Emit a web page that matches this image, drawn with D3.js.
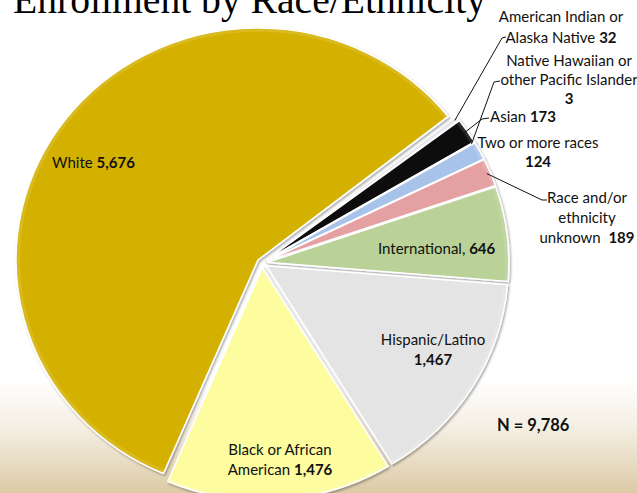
<!DOCTYPE html>
<html><head><meta charset="utf-8">
<script src="https://cdn.jsdelivr.net/npm/d3@7"></script>
<style>html,body{margin:0;padding:0;background:#fff;overflow:hidden}svg{display:block}</style>
</head><body>
<script>
// ---- data ----
const title = "Enrollment by Race/Ethnicity";
const categories = ["American Indian or Alaska Native","Asian","Native Hawaiian or other Pacific Islander","Two or more races","Race and/or ethnicity unknown","International","Hispanic/Latino","Black or African American","White"];
const values = [32, 173, 3, 124, 189, 646, 1467, 1476, 5676];
const sliceColors = ["#e4e8ee", "#0e0e0e", "#c9c9d6", "#a8c3ea", "#e5a0a2", "#bad197", "#e4e4e4", "#fdfc9e", "#d4b106"];
const totalText = "N = 9,786";
// label text pieces: [text, bold]
const labelLines = [
  [[["American Indian or", false]], [["Alaska Native ", false], ["32", true]]],
  [[["Asian ", false], ["173", true]]],
  [[["Native Hawaiian or", false]], [["other Pacific Islander", false]], [["3", true]]],
  [[["Two or more races", false]], [["124", true]]],
  [[["Race and/or", false]], [["ethnicity", false]], [["unknown  ", false], ["189", true]]],
  [[["International, ", false], ["646", true]]],
  [[["Hispanic/Latino", false]], [["1,467", true]]],
  [[["Black or African", false]], [["American ", false], ["1,476", true]]],
  [[["White ", false], ["5,676", true]]]
];

// ---- layout ----
const W = 637, H = 493;
const cx = 262, cy = 263, rx = 242, ry = 232, explode = 5;
const fontFam = "Lato, 'Open Sans', sans-serif";
const fs = 15;
const labelPos = [
  {x: 561, y: 22, a: "middle", lh: 21},
  {x: 490, y: 122, a: "start", lh: 20},
  {x: 569, y: 66, a: "middle", lh: 19},
  {x: 538, y: 148, a: "middle", lh: 19},
  {x: 587, y: 203, a: "middle", lh: 20},
  {x: 378, y: 254, a: "start", lh: 20},
  {x: 433, y: 345, a: "middle", lh: 20},
  {x: 280, y: 455, a: "middle", lh: 20},
  {x: 52, y: 168, a: "start", lh: 20}
];
const leaders = [
  [[502, 38], [506, 37]],
  [[482, 119], [489, 118]],
  [[494, 82], [500, 81]],
  null,
  [[542, 200], [547, 200]],
  null, null, null, null
];

const svg = d3.select("body").append("svg").attr("width", W).attr("height", H);
const defs = svg.append("defs");
const bg = defs.append("linearGradient").attr("id", "bg").attr("x1", 0).attr("y1", 0).attr("x2", 0).attr("y2", 1);
bg.append("stop").attr("offset", "0").attr("stop-color", "#ffffff");
bg.append("stop").attr("offset", "0.77").attr("stop-color", "#ffffff");
bg.append("stop").attr("offset", "0.87").attr("stop-color", "#f4eee2");
bg.append("stop").attr("offset", "1").attr("stop-color", "#dccaa5");
svg.append("rect").attr("width", W).attr("height", H).attr("fill", "url(#bg)");

const f = defs.append("filter").attr("id", "sh").attr("x", "-10%").attr("y", "-10%").attr("width", "120%").attr("height", "120%");
f.append("feDropShadow").attr("dx", 1.2).attr("dy", 1.6).attr("stdDeviation", 1.3).attr("flood-color", "#000").attr("flood-opacity", 0.35);

const data = categories.map((c, i) => ({c, v: values[i], i}));
const start = 51.8 * Math.PI / 180;
const pie = d3.pie().sort(null).value(d => d.v).startAngle(start).endAngle(start + 2 * Math.PI);
const arcs = pie(data);
const arc = d3.arc().innerRadius(0).outerRadius(rx);
const rim = d3.arc().innerRadius(rx - 4).outerRadius(rx - 1);
const k = ry / rx;

const gp = svg.append("g");
arcs.forEach(a => {
  const mid = (a.startAngle + a.endAngle) / 2;
  a.ox = cx + explode * Math.sin(mid);
  a.oy = cy - explode * Math.cos(mid);
  a.mid = mid;
  const tr = `translate(${a.ox},${a.oy}) scale(1,${k})`;
  gp.append("path")
    .attr("transform", tr)
    .attr("d", arc(a))
    .attr("fill", sliceColors[a.index])
    .attr("stroke", "#ffffff")
    .attr("stroke-width", 1.6)
    .attr("vector-effect", "non-scaling-stroke")
    .attr("filter", "url(#sh)");
  // soft bevel highlight along the rim
  gp.append("path")
    .attr("transform", tr)
    .attr("d", rim(a))
    .attr("fill", "#ffffff").attr("opacity", 0.12);
});

// title
const t = svg.append("text").attr("x", 13).attr("y", 13)
  .attr("font-family", "'Liberation Serif', 'Times New Roman', serif")
  .attr("font-size", 40).attr("fill", "#000").text(title);
const tl = t.node().getComputedTextLength();
t.attr("font-size", 40 * 473 / tl);

// leaders
arcs.forEach(a => {
  const L = leaders[a.index];
  if (!L) return;
  const p0 = [a.ox + rx * Math.sin(a.mid) * 0.985, a.oy - ry * Math.cos(a.mid) * 0.985];
  svg.append("path")
    .attr("d", d3.line()([p0, L[0], L[1]]))
    .attr("fill", "none").attr("stroke", "#111").attr("stroke-width", 1);
});

// labels
arcs.forEach(a => {
  const P = labelPos[a.index];
  const lines = labelLines[a.index];
  const tx = svg.append("text").attr("font-family", fontFam).attr("font-size", fs)
    .attr("fill", "#111").attr("text-anchor", P.a);
  lines.forEach((ln, li) => {
    ln.forEach((seg, si) => {
      const ts = tx.append("tspan").text(seg[0]).attr("font-weight", seg[1] ? 700 : 400)
        .attr("xml:space", "preserve").style("white-space", "pre");
      if (si === 0) ts.attr("x", P.x).attr("y", P.y + li * P.lh);
    });
  });
});

svg.append("text").attr("x", 497).attr("y", 431)
  .attr("font-family", fontFam).attr("font-size", 16.5).attr("font-weight", 700)
  .attr("fill", "#111").text(totalText);
</script>
</body></html>
